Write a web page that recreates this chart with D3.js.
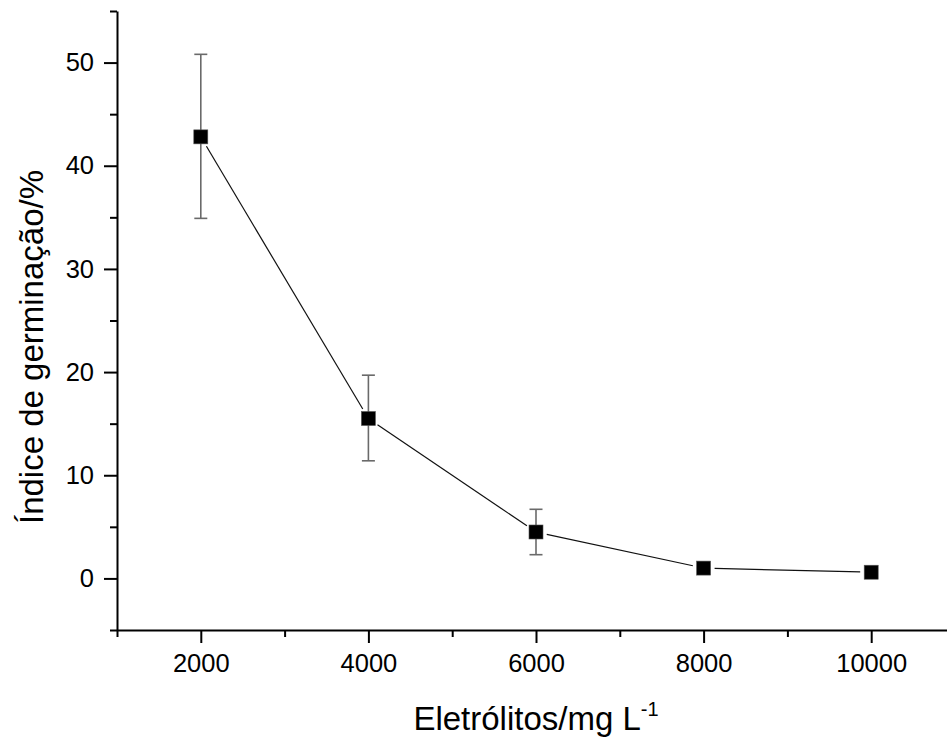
<!DOCTYPE html>
<html><head><meta charset="utf-8">
<script src="https://cdn.jsdelivr.net/npm/d3@7"></script>
<style>body{margin:0;background:#fff}svg{display:block}text{font-family:"Liberation Sans",Arial,sans-serif;fill:#000}</style>
</head><body><svg id="c" width="947" height="740"></svg>
<script>
const xValues = [2000, 4000, 6000, 8000, 10000];
const yValues = [42.8, 15.5, 4.5, 1.0, 0.6];
const errLow  = [34.9, 11.4, 2.3, null, null];
const errHigh = [50.8, 19.7, 6.7, null, null];
const xTicks = [2000, 4000, 6000, 8000, 10000];
const yTicks = [0, 10, 20, 30, 40, 50];
const xMinor = [1000, 3000, 5000, 7000, 9000, 11000];
const yMinor = [-5, 5, 15, 25, 35, 45, 55];

const svg = d3.select("#c");
const x = d3.scaleLinear().domain([1000, 11000]).range([117, 955]);
const y = d3.scaleLinear().domain([-5, 55]).range([630, 11]);

// axes
const gx = svg.append("g").attr("transform", "translate(0,630)");
gx.call(d3.axisBottom(x).tickValues(xTicks).tickSize(13).tickPadding(11).tickSizeOuter(0).tickFormat(d3.format("d")));
const gxm = svg.append("g").attr("transform", "translate(0,630)");
gxm.call(d3.axisBottom(x).tickValues(xMinor).tickSize(7).tickFormat("").tickSizeOuter(0));
gxm.select(".domain").remove();

const gy = svg.append("g").attr("transform", "translate(117,0)");
gy.call(d3.axisLeft(y).tickValues(yTicks).tickSize(13).tickPadding(10).tickSizeOuter(0));
const gym = svg.append("g").attr("transform", "translate(117,0)");
gym.call(d3.axisLeft(y).tickValues(yMinor).tickSize(7).tickFormat("").tickSizeOuter(0));
gym.select(".domain").remove();

svg.selectAll(".domain").attr("stroke", "#000").attr("stroke-width", 2);
svg.selectAll(".tick line").attr("stroke", "#000").attr("stroke-width", 2);
svg.selectAll(".tick text").attr("font-size", 25.5).attr("font-family", "Liberation Sans, Arial, sans-serif").attr("fill", "#000");

// data
const pts = xValues.map((v, i) => ({x: x(v), y: y(yValues[i]), lo: errLow[i], hi: errHigh[i]}));

// connecting line with gaps
const gap = 11;
for (let i = 0; i < pts.length - 1; i++) {
  const a = pts[i], b = pts[i + 1];
  const dx = b.x - a.x, dy = b.y - a.y, L = Math.hypot(dx, dy);
  const ux = dx / L, uy = dy / L;
  svg.append("line")
    .attr("x1", a.x + ux * gap).attr("y1", a.y + uy * gap)
    .attr("x2", b.x - ux * gap).attr("y2", b.y - uy * gap)
    .attr("stroke", "#111").attr("stroke-width", 1.2);
}

// error bars
const eb = svg.append("g");
pts.forEach(p => {
  if (p.lo == null) return;
  eb.append("line").attr("x1", p.x).attr("x2", p.x).attr("y1", y(p.hi)).attr("y2", y(p.lo))
    .attr("stroke", "#6a6a6a").attr("stroke-width", 1.6);
  [p.hi, p.lo].forEach(v => {
    eb.append("line").attr("x1", p.x - 6.5).attr("x2", p.x + 6.5).attr("y1", y(v)).attr("y2", y(v))
      .attr("stroke", "#6a6a6a").attr("stroke-width", 1.6);
  });
});

// markers
svg.append("g").selectAll("rect").data(pts).join("rect")
  .attr("x", d => d.x - 7).attr("y", d => d.y - 7).attr("width", 14).attr("height", 14)
  .attr("fill", "#000").attr("stroke", "#555").attr("stroke-width", 0.6);

// titles
const xt = svg.append("text").attr("x", 536).attr("y", 730).attr("text-anchor", "middle").attr("font-size", 33);
xt.append("tspan").text("Eletrólitos/mg L");
xt.append("tspan").attr("font-size", 20).attr("dy", -14).text("-1");

svg.append("text").attr("transform", "translate(43,347) rotate(-90)").attr("text-anchor", "middle")
  .attr("font-size", 33).text("Índice de germinação/%");
</script></body></html>
